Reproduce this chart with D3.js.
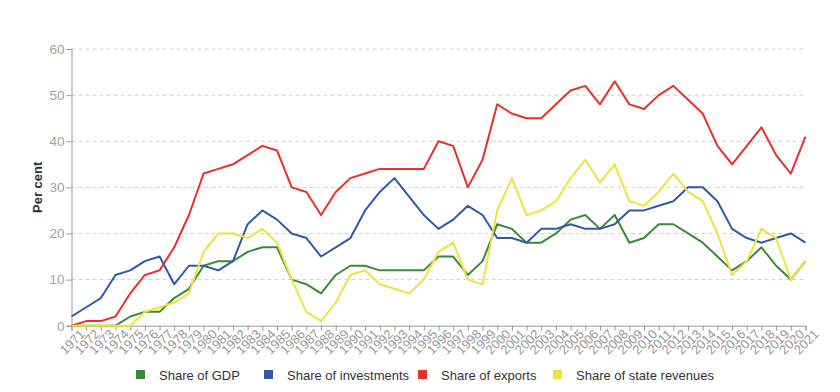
<!DOCTYPE html>
<html><head><meta charset="utf-8">
<script src="https://cdn.jsdelivr.net/npm/d3@7"></script>
<style>body{margin:0;background:#fff}svg{display:block;font-family:"Liberation Sans",Arial,sans-serif}</style>
</head><body><svg id="c" width="840" height="392"></svg>
<script>
const years = d3.range(1971, 2022).map(String);
const gdp = [0,0,0,0,2,3,3,6,8,13,14,14,16,17,17,10,9,7,11,13,13,12,12,12,12,15,15,11,14,22,21,18,18,20,23,24,21,24,18,19,22,22,20,18,15,12,14,17,13,10,14];
const investments = [2,4,6,11,12,14,15,9,13,13,12,14,22,25,23,20,19,15,17,19,25,29,32,28,24,21,23,26,24,19,19,18,21,21,22,21,21,22,25,25,26,27,30,30,27,21,19,18,19,20,18];
const exportsS = [0,1,1,2,7,11,12,17,24,33,34,35,37,39,38,30,29,24,29,32,33,34,34,34,34,40,39,30,36,48,46,45,45,48,51,52,48,53,48,47,50,52,49,46,39,35,39,43,37,33,41];
const revenues = [0,0,0,0,0,3,4,5,7,16,20,20,19,21,18,10,3,1,5,11,12,9,8,7,10,16,18,10,9,25,32,24,25,27,32,36,31,35,27,26,29,33,29,27,20,11,14,21,19,10,14];
const yTicks = [0,10,20,30,40,50,60];
const seriesNames = ["Share of GDP","Share of investments","Share of exports","Share of state revenues"];
const colors = ["#3a8a35","#2e5aa8","#e8302a","#f0e23e"];
const series = [gdp, investments, exportsS, revenues];

const svg = d3.select("#c");
const m = {l:71.5, r:34.5, t:49, b:66.3};
const W = 840, H = 392;
const x = d3.scalePoint().domain(years).range([m.l, W - m.r]);
const y = d3.scaleLinear().domain([0,60]).range([H - m.b, m.t]);

// grid
svg.append("g").selectAll("line").data(yTicks.filter(d=>d>0)).join("line")
  .attr("x1", m.l).attr("x2", W - m.r)
  .attr("y1", d=>y(d)).attr("y2", d=>y(d))
  .attr("stroke","#d0d0d0").attr("stroke-dasharray","4,3").attr("stroke-width",1);

// y axis
const ya = svg.append("g").attr("transform",`translate(${m.l},0)`)
  .call(d3.axisLeft(y).tickValues(yTicks).tickSize(5).tickPadding(2));
ya.select(".domain").attr("stroke","#999");
ya.selectAll(".tick line").attr("stroke","#999");
ya.selectAll("text").attr("fill","#a0a0a0").style("font-size","13.5px");

// x axis
const xa = svg.append("g").attr("transform",`translate(0,${H - m.b})`)
  .call(d3.axisBottom(x).tickSize(5).tickPadding(2));
xa.select(".domain").attr("stroke","#999");
xa.selectAll(".tick line").attr("stroke","#999");
xa.selectAll("text").attr("fill","#999").style("font-size","13px")
  .attr("text-anchor","end").attr("dx","0.25em").attr("dy","0.7em")
  .attr("transform","rotate(-45)");

// y label
svg.append("text").attr("transform",`translate(41.5,${(m.t + H - m.b)/2}) rotate(-90)`)
  .attr("text-anchor","middle").attr("font-weight","bold").style("font-size","13px")
  .attr("fill","#333").text("Per cent");

// lines
const line = d3.line().x((d,i)=>x(years[i])).y(d=>y(d));
svg.append("g").selectAll("path").data(series).join("path")
  .attr("d", line).attr("fill","none")
  .attr("stroke",(d,i)=>colors[i]).attr("stroke-width",2)
  .attr("stroke-linejoin","round");

// legend
const legX = [136, 264, 418, 553];
const lg = svg.append("g").selectAll("g").data(seriesNames).join("g")
  .attr("transform",(d,i)=>`translate(${legX[i]},375)`);
lg.append("rect").attr("x",0).attr("y",-5).attr("width",9).attr("height",9)
  .attr("fill",(d,i)=>colors[i]);
lg.append("text").attr("x",23).attr("y",0).attr("dy","0.35em")
  .style("font-size","13px").attr("fill","#333").text(d=>d);
</script></body></html>
